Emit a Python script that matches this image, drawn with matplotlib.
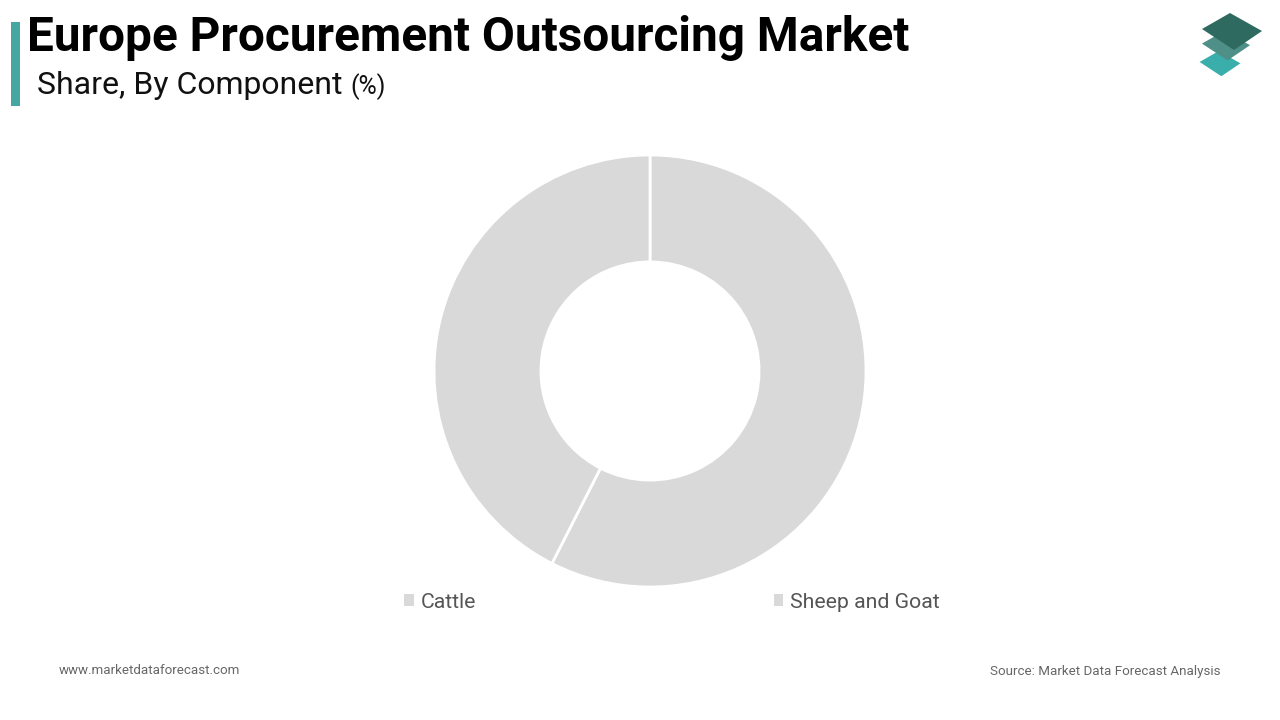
import matplotlib
matplotlib.use("Agg")
import matplotlib.pyplot as plt
from matplotlib.patches import Polygon, Rectangle

categories = ["Cattle", "Sheep and Goat"]
shares = [57.5, 42.5]
colors = ["#d9d9d9", "#d9d9d9"]

title = "Europe Procurement Outsourcing Market"
subtitle = "Share, By Component"
footer_left = "www.marketdataforecast.com"
footer_right = "Source: Market Data Forecast Analysis"

plt.rcParams['font.family'] = ['Roboto', 'DejaVu Sans']

W, H = 1280, 720
fig = plt.figure(figsize=(12.8, 7.2), dpi=100)
fig.patch.set_facecolor("white")

def fx(x):
    return x / W

def fy(y):
    return 1 - y / H

# Donut
cx, cy, r = 650, 371, 216
ax = fig.add_axes([fx(cx - r), fy(cy + r), 2 * r / W, 2 * r / H])
wedges, _ = ax.pie(shares, colors=colors, startangle=90, counterclock=False,
                   radius=1, wedgeprops=dict(width=0.495, edgecolor="white", linewidth=2))
ax.set_xlim(-1, 1)
ax.set_ylim(-1, 1)
ax.set_aspect("equal")
ax.axis("off")

# Legend
leg = fig.legend(wedges, categories, ncol=2, loc="center",
                 bbox_to_anchor=(fx(672), fy(602)), frameon=False,
                 fontsize=15.3, handlelength=0.45, handleheight=0.45,
                 handletextpad=0.33, columnspacing=14.0, labelcolor="#555555")
for h in leg.legend_handles:
    h.set_edgecolor("none")

# Title block
fig.patches.append(Rectangle((fx(11), fy(106)), 9 / W, 84 / H, transform=fig.transFigure,
                             facecolor="#46a6a3", edgecolor="none"))
fig.text(fx(27), fy(38), title, fontsize=34.4, fontweight="bold", color="#000000",
         va="center", ha="left")
fig.text(fx(37), fy(85), subtitle, fontsize=23, color="#111111", va="center", ha="left")
fig.text(fx(350), fy(87), "(%)", fontsize=18, color="#111111", va="center", ha="left")

# Footer
fig.text(fx(59), fy(671), footer_left, fontsize=9.6, color="#666666", va="center", ha="left")
fig.text(fx(1220), fy(671), footer_right, fontsize=9.6, color="#666666", va="center", ha="right")

# Logo
def diamond(cxp, cyp, s, color):
    base = [(-2, -19), (30, -1), (2, 18), (-30, -3)]
    pts = [(cxp + s * dx, cyp + s * dy) for dx, dy in base]
    fig.patches.append(Polygon([(fx(x), fy(y)) for x, y in pts], closed=True,
                               transform=fig.transFigure, facecolor=color,
                               edgecolor="none", joinstyle="round"))

diamond(1220, 64, 0.68, "#3aaeab")
diamond(1226, 46, 0.8, "#4e8f88")
diamond(1232, 32, 1.0, "#2e6a60")

fig.savefig("out.png", dpi=100, facecolor="white")
